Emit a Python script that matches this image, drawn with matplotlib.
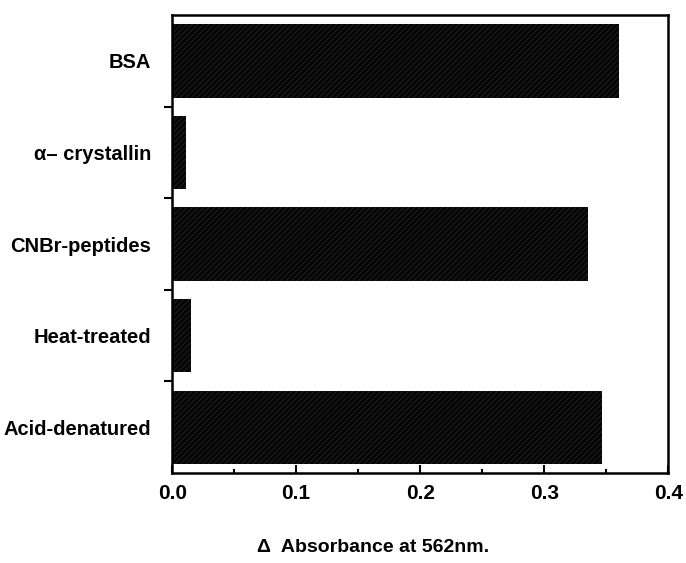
import numpy as np
import matplotlib.pyplot as plt

plt.rcParams['font.family'] = ['Liberation Sans', 'DejaVu Sans']
plt.rcParams['hatch.linewidth'] = 0.5

labels = ['BSA', 'α– crystallin', 'CNBr-peptides', 'Heat-treated', 'Acid-denatured']
values = [0.360, 0.011, 0.335, 0.015, 0.347]

fig = plt.figure(figsize=(6.86, 5.63), dpi=100)
ax = fig.add_axes([0.251, 0.160, 0.723, 0.813])

y = np.arange(len(labels))
ax.barh(y, values, height=0.8, color='#050505', edgecolor='#2a2a2a',
        hatch='//////', linewidth=0)

ax.set_xlim(0, 0.4)
ax.set_ylim(len(labels) - 0.5, -0.5)
ax.set_xticks([0.0, 0.1, 0.2, 0.3, 0.4])
ax.set_xticklabels(['0.0', '0.1', '0.2', '0.3', '0.4'], fontsize=15, fontweight='bold')
ax.set_xticks(np.arange(0.05, 0.4, 0.1), minor=True)
ax.tick_params(axis='x', which='major', direction='in', length=6, width=1.5, pad=8)
ax.tick_params(axis='x', which='minor', direction='in', length=3, width=1.5)

ax.set_yticks(y)
ax.set_yticklabels(labels, fontsize=14.5, fontweight='bold')
ax.tick_params(axis='y', which='major', length=0, pad=15)
ax.set_yticks(np.arange(0.5, len(labels) - 1, 1.0), minor=True)
ax.tick_params(axis='y', which='minor', direction='out', length=6, width=1.5)

for s in ax.spines.values():
    s.set_linewidth(1.8)

fig.text(373 / 686, 1 - 548 / 563, 'Δ  Absorbance at 562nm.', fontsize=14,
         fontweight='bold', ha='center', va='center')

fig.savefig('out.png', dpi=100)
